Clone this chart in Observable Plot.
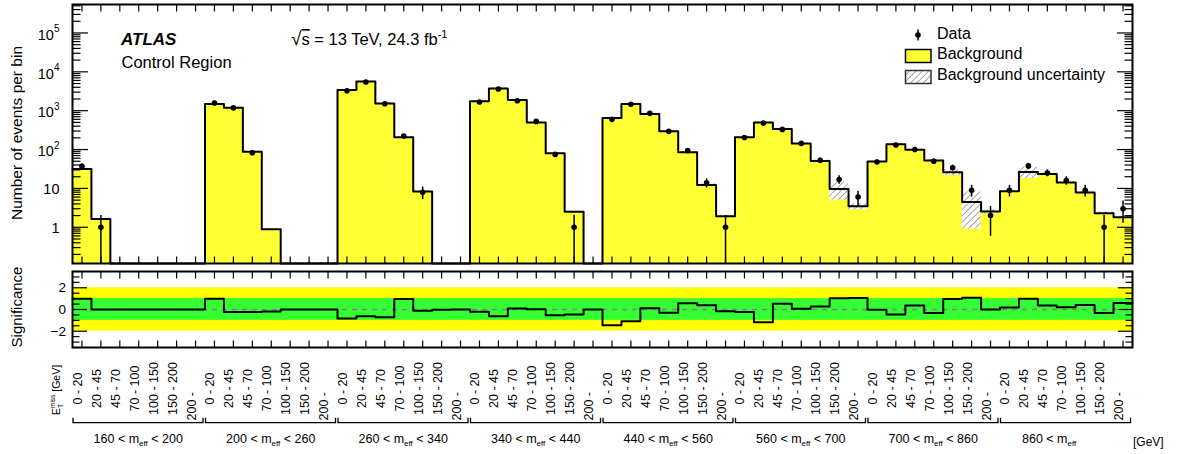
<!DOCTYPE html>
<html><head><meta charset="utf-8">
<script src="https://cdn.jsdelivr.net/npm/d3@7"></script>
<script src="https://cdn.jsdelivr.net/npm/@observablehq/plot@0.6"></script>
<style>
body{margin:0;background:#fff;}
#chart{position:relative;width:1178px;height:454px;font-family:"Liberation Sans",Arial,sans-serif;}
#chart svg{position:absolute;left:0;top:0;}
</style></head><body><div id="chart"></div>
<script>
// ---------------- data ----------------
const metLabels = ["0 - 20", "20 - 45", "45 - 70", "70 - 100", "100 - 150", "150 - 200", "200 -"];
const meffLow  = [160, 200, 260, 340, 440, 560, 700, 860];
const meffHigh = [200, 260, 340, 440, 560, 700, 860, null];
const background = [
  31.7, 1.64, 0, 0, 0, 0, 0,
  1480, 1190, 88, 0.89, 0, 0, 0,
  3400, 5660, 1540, 206, 8.3, 0, 0,
  1740, 3740, 1880, 500, 80, 2.5, 0,
  650, 1480, 820, 294, 85, 12.3, 1.92,
  206, 500, 338, 144, 51, 9.7, 3.47,
  49, 136, 99, 52, 26, 4.5, 2.53,
  8.4, 26.5, 23.6, 14.3, 7.9, 2.29, 1.8
];
const backgroundErr = [
  1, 0.05, 0, 0, 0, 0, 0,
  40, 35, 3, 0.04, 0, 0, 0,
  90, 150, 40, 6, 0.4, 0, 0,
  45, 100, 50, 13, 2.5, 0.12, 0,
  18, 40, 22, 9, 3, 0.8, 0.12,
  7, 18, 12, 5, 2.5, 4.7, 0.65,
  2, 6, 4, 2.5, 4.5, 3.6, 0.25,
  0.5, 8.5, 1.5, 0.9, 0.6, 0.2, 0.15
];
const dataCounts = [
  37, 1, 0, 0, 0, 0, 0,
  1580, 1180, 83, 0, 0, 0, 0,
  3270, 5450, 1510, 224, 8, 0, 0,
  1680, 3600, 1810, 530, 75, 1, 0,
  598, 1460, 855, 294, 94, 14, 1,
  205, 480, 330, 144, 53, 17, 6,
  48, 131, 100, 50, 34, 9, 2,
  9, 38, 25, 16, 9, 1, 3
];
const significance = [
  1.0, 0, 0, 0, 0, 0, 0,
  1.0, -0.24, -0.24, -0.18, 0, 0, 0,
  -0.84, -0.63, -0.72, 0.96, -0.12, -0.03, 0,
  -0.21, -0.63, 0.09, 0.03, -0.54, -0.45, 0,
  -1.45, -1.09, 0.12, -0.3, 0.58, 0.39, -0.15,
  -0.24, -1.18, 0.52, 0.06, 0.27, 1.03, 1.05,
  -0.03, -0.45, 0.36, -0.33, 0.97, 1.09, 0,
  0.18, 1.0, 0.36, 0.21, 0.42, -0.33, 0.6
];
const yTicksMajor = [1, 10, 100, 1e3, 1e4, 1e5];
const sigTicksMajor = [-2, 0, 2];
const sigBands = [{lo: -2, hi: 2, color: "#ffff00"}, {lo: -1, hi: 1, color: "#33ff33"}];
const legendItems = ["Data", "Background", "Background uncertainty"];

// ---------------- derived ----------------
const W = 1178, H = 454;
const FONT = "'Liberation Sans', Arial, sans-serif";
const nPer = metLabels.length, nGroups = meffLow.length, nBins = nPer * nGroups;
const yDomain = [0.117, 5.4e5];
const yLo = yDomain[0];
const bins = d3.range(nBins).map(i => ({
  i, x0: i, x1: i + 1, xc: i + 0.5, g: Math.floor(i / nPer), label: metLabels[i % nPer],
  bg: background[i], err: backgroundErr[i], n: dataCounts[i], sig: significance[i]
}));
const centers = bins.map(b => b.xc);
const outline = bins.flatMap(b => [{x: b.x0, y: Math.max(b.bg, yLo)}, {x: b.x1, y: Math.max(b.bg, yLo)}]);
const sigLine = bins.flatMap(b => [{x: b.x0, y: b.sig}, {x: b.x1, y: b.sig}]);
const dataPts = bins.filter(b => b.n > 0);
const yTicksMinor = [];
for (let e = -1; e <= 5; e++) for (let m = 2; m <= 9; m++) {
  const v = m * Math.pow(10, e);
  if (v >= yDomain[0] && v <= yDomain[1]) yTicksMinor.push(v);
}
const sigTicksMinor = d3.range(-3.5, 3.51, 0.5).filter(v => !sigTicksMajor.includes(v));
const blank = () => "";

// ---------------- top panel ----------------
const topPlot = Plot.plot({
  width: W, height: 266,
  marginLeft: 72, marginRight: 46, marginTop: 4, marginBottom: 3,
  style: {background: "transparent", fontFamily: FONT, color: "black"},
  x: {domain: [0, nBins], axis: null, label: null},
  y: {type: "log", domain: yDomain, axis: null, label: null},
  marks: [
    Plot.areaY(outline, {x: "x", y1: yLo, y2: "y", fill: "#ffff33"}),
    Plot.rect(bins.filter(b => b.err > 0), {x1: "x0", x2: "x1", y1: b => Math.max(b.bg - b.err, yLo), y2: b => b.bg + b.err, fill: "url(#hatch)"}),
    Plot.line(outline, {x: "x", y: "y", stroke: "black", strokeWidth: 2}),
    Plot.ruleX(dataPts, {x: "xc", y1: b => Math.max(b.n - Math.sqrt(b.n), yLo), y2: b => b.n + Math.sqrt(b.n), stroke: "black", strokeWidth: 1.5}),
    Plot.dot(dataPts, {x: "xc", y: "n", r: 2.8, fill: "black"}),
    Plot.axisY(yTicksMajor, {anchor: "left", tickSize: -16, tickFormat: blank, label: null, strokeWidth: 1.2}),
    Plot.axisY(yTicksMinor, {anchor: "left", tickSize: -8.5, tickFormat: blank, label: null, strokeWidth: 1.2}),
    Plot.axisY(yTicksMajor, {anchor: "right", tickSize: -16, tickFormat: blank, label: null, strokeWidth: 1.2}),
    Plot.axisY(yTicksMinor, {anchor: "right", tickSize: -8.5, tickFormat: blank, label: null, strokeWidth: 1.2}),
    Plot.axisX(centers, {anchor: "bottom", tickSize: -6.5, tickFormat: blank, label: null, strokeWidth: 1.2}),
    Plot.axisX(centers, {anchor: "top", tickSize: -6.5, tickFormat: blank, label: null, strokeWidth: 1.2}),
    Plot.frame({stroke: "black", strokeWidth: 2})
  ]
});
d3.select(topPlot).insert("defs", ":first-child").html(
  `<pattern id="hatch" patternUnits="userSpaceOnUse" width="4.5" height="4.5" patternTransform="rotate(45)">
     <rect width="4.5" height="4.5" fill="white"/>
     <line x1="0" y1="0" x2="0" y2="4.5" stroke="#808080" stroke-width="1.4"/>
   </pattern>`);

// ---------------- bottom panel ----------------
const isOpen = b => b.label.trim().endsWith("-");
const bottomPlot = Plot.plot({
  width: W, height: H,
  marginLeft: 72, marginRight: 46, marginTop: 271, marginBottom: 107,
  style: {background: "transparent", fontFamily: FONT, color: "black"},
  color: {type: "identity"},
  x: {domain: [0, nBins], axis: null, label: null},
  y: {domain: [-3.5, 3.5], axis: null, label: null},
  marks: [
    Plot.rect(sigBands, {x1: 0, x2: nBins, y1: "lo", y2: "hi", fill: "color"}),
    Plot.ruleY([0], {stroke: "#808080", strokeDasharray: "5,5", strokeWidth: 1.5}),
    Plot.line(sigLine, {x: "x", y: "y", stroke: "black", strokeWidth: 2}),
    Plot.axisY(sigTicksMajor, {anchor: "left", tickSize: -15, tickFormat: blank, label: null, strokeWidth: 1.2}),
    Plot.axisY(sigTicksMinor, {anchor: "left", tickSize: -7.5, tickFormat: blank, label: null, strokeWidth: 1.2}),
    Plot.axisY(sigTicksMajor, {anchor: "right", tickSize: -15, tickFormat: blank, label: null, strokeWidth: 1.2}),
    Plot.axisY(sigTicksMinor, {anchor: "right", tickSize: -7.5, tickFormat: blank, label: null, strokeWidth: 1.2}),
    Plot.axisY(sigTicksMajor, {anchor: "left", tickSize: 0, tickPadding: 6.5, fontSize: 13.5, label: null}),
    Plot.axisX(centers, {anchor: "bottom", tickSize: -6.5, tickFormat: blank, label: null, strokeWidth: 1.2}),
    Plot.axisX(centers, {anchor: "top", tickSize: -6.5, tickFormat: blank, label: null, strokeWidth: 1.2}),
    Plot.frame({stroke: "black", strokeWidth: 2}),
    Plot.text(bins.filter(b => !isOpen(b)), {x: "xc", text: "label", frameAnchor: "bottom", dy: 41, rotate: -90, fontSize: 12.5, fill: "black"}),
    Plot.text(bins.filter(isOpen), {x: "xc", text: "label", frameAnchor: "bottom", dy: 73, rotate: -90, textAnchor: "start", fontSize: 12.5, fill: "black"})
  ]
});

// ---------------- annotations ----------------
const ann = d3.create("svg").attr("width", W).attr("height", H)
  .attr("font-family", FONT).attr("fill", "black");
const ys = topPlot.scale("y");
const xs = bottomPlot.scale("x");

// log-axis labels
yTicksMajor.forEach(v => {
  const y = ys.apply(v);
  const e = Math.round(Math.log10(v));
  const t = ann.append("text").attr("x", 59.5).attr("text-anchor", "end").attr("font-size", 14.5);
  if (e < 2) t.attr("y", y + 6.3).text(String(v));
  else { t.attr("y", y + 7.3).text("10"); t.append("tspan").attr("dy", -7.6).attr("font-size", 10).text(e); }
});

// axis titles
ann.append("text").attr("transform", "translate(22,133) rotate(-90)").attr("text-anchor", "middle")
  .attr("font-size", 15.5).text("Number of events per bin");
ann.append("text").attr("transform", "translate(22,307) rotate(-90)").attr("text-anchor", "middle")
  .attr("font-size", 15).text("Significance");

// ATLAS labels
ann.append("text").attr("x", 121).attr("y", 45).attr("font-size", 17).attr("font-weight", "bold")
  .attr("font-style", "italic").text("ATLAS");
ann.append("text").attr("x", 121.5).attr("y", 68).attr("font-size", 16.5).text("Control Region");
const en = ann.append("text").attr("x", 291).attr("y", 45).attr("font-size", 16.5);
en.append("tspan").attr("font-size", 19).text("√");
en.append("tspan").style("text-decoration", "overline").text("s");
en.append("tspan").text(" = 13 TeV, 24.3 fb");
en.append("tspan").attr("dy", -7).attr("font-size", 11).text("-1");

// legend
ann.append("line").attr("x1", 918).attr("x2", 918).attr("y1", 29.5).attr("y2", 40.5)
  .attr("stroke", "black").attr("stroke-width", 1.5);
ann.append("circle").attr("cx", 918).attr("cy", 35).attr("r", 2.8);
ann.append("rect").attr("x", 905.5).attr("y", 49.5).attr("width", 25.5).attr("height", 13)
  .attr("fill", "#ffff33").attr("stroke", "black").attr("stroke-width", 1.5);
ann.append("rect").attr("x", 905.5).attr("y", 70.5).attr("width", 25.5).attr("height", 13)
  .attr("fill", "url(#hatch)").attr("stroke", "#333").attr("stroke-width", 1.5);
legendItems.forEach((s, k) => {
  ann.append("text").attr("x", 937).attr("y", 38.5 + k * 20.8).attr("font-size", 16).text(s);
});

// group brackets and labels
const bracketY = 422.7;
meffLow.forEach((lo, g) => {
  const xa = xs.apply(g * nPer) + 1, xb = xs.apply((g + 1) * nPer) - 1.5;
  ann.append("path").attr("d", `M${xa},${bracketY - 5}V${bracketY}H${xb}V${bracketY - 5}`)
    .attr("fill", "none").attr("stroke", "black").attr("stroke-width", 1.3);
  const hi = meffHigh[g];
  const t = ann.append("text").attr("y", 443.3).attr("font-size", 12.5);
  if (hi != null) t.attr("x", xs.apply((g + 0.5) * nPer)).attr("text-anchor", "middle");
  else t.attr("x", xs.apply(g * nPer) + 22.5).attr("text-anchor", "start");
  t.append("tspan").text(`${lo} < m`);
  t.append("tspan").attr("dy", 3).attr("font-size", 8).text("eff");
  t.append("tspan").attr("dy", -3).text(hi != null ? ` < ${hi}` : "");
});
ann.append("text").attr("x", 1133).attr("y", 446).attr("font-size", 12).text("[GeV]");

// E_T^miss label
const et = ann.append("text").attr("transform", "translate(60,415) rotate(-90)").attr("font-size", 10.5);
et.append("tspan").text("E");
et.append("tspan").attr("dy", 2.5).attr("font-size", 7).text("T");
et.append("tspan").attr("dx", -4.3).attr("dy", -8).attr("font-size", 6.5).text("miss");
et.append("tspan").attr("dy", 5.5).text(" [GeV]");

const chart = document.getElementById("chart");
chart.append(topPlot, bottomPlot, ann.node());
</script></body></html>
